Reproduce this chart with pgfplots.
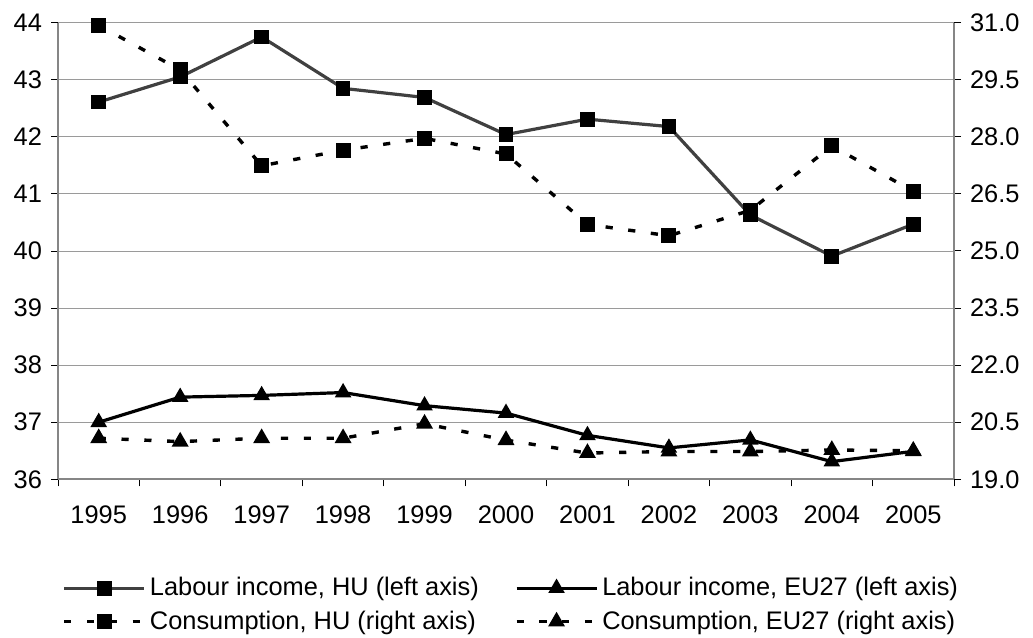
\documentclass[border=0pt]{standalone}
\usepackage{fontspec}
\setmainfont{Liberation Sans}
\usepackage{pgfplots}
\pgfplotsset{compat=1.18}

\definecolor{gridgray}{HTML}{9A9A9A}
\definecolor{axisgray}{HTML}{868686}
\definecolor{hugray}{HTML}{404040}

\pgfplotsset{
  base/.style={
    scale only axis,
    width=448pt, height=228.3pt,
    at={(29pt,78.85pt)}, anchor=south west,
    xmin=-0.5, xmax=10.5,
    tick align=outside,
    major tick length=3.5pt,
    minor tick length=3.5pt,
    tick style={black, line width=0.5pt},
    axis line style={axisgray, line width=1pt},
    tick label style={font=\fontsize{12.7}{15}\selectfont},
    /pgf/number format/assume math mode=true,
  },
  labhu/.style={hugray, line width=1.6pt, mark=square*, mark size=2.9pt, mark options={black, solid}},
  labeu/.style={black, line width=1.6pt, mark=triangle*, mark size=3.2pt, mark options={black, solid}},
  conhu/.style={black, line width=1.7pt, dash pattern=on 3.6pt off 7.8pt, mark=square*, mark size=2.9pt, mark options={black, solid}},
  coneu/.style={black, line width=1.7pt, dash pattern=on 3.6pt off 7.8pt, mark=triangle*, mark size=3.2pt, mark options={black, solid}},
}

\begin{document}
\begin{tikzpicture}
\useasboundingbox (0,0) rectangle (516.5pt,318.5pt);

% Left axis: labour income shares
\begin{axis}[
  base,
  axis x line*=bottom,
  axis y line*=left,
  ymin=36, ymax=44,
  ytick={36,37,...,44},
  ymajorgrids,
  major grid style={gridgray, line width=0.5pt},
  xtick={0,...,10},
  xticklabels={1995,1996,1997,1998,1999,2000,2001,2002,2003,2004,2005},
  major x tick style={draw=none},
  minor xtick={-0.5,0.5,...,10.5},
  xticklabel style={yshift=-6pt},
  yticklabel style={xshift=-1pt},
]
\addplot[labhu] coordinates {
  (0,42.61) (1,43.05) (2,43.75) (3,42.85) (4,42.69) (5,42.04)
  (6,42.31) (7,42.18) (8,40.63) (9,39.91) (10,40.47)};
\addplot[labeu] coordinates {
  (0,37.00) (1,37.44) (2,37.47) (3,37.52) (4,37.29) (5,37.16)
  (6,36.77) (7,36.55) (8,36.69) (9,36.31) (10,36.49)};
\end{axis}

% Right axis: consumption shares
\begin{axis}[
  base,
  axis x line=none,
  axis y line*=right,
  ymin=19, ymax=31,
  ytick={19,20.5,...,31},
  yticklabel style={/pgf/number format/.cd, fixed, fixed zerofill, precision=1, /tikz/.cd, xshift=1pt},
  legend columns=2,
  legend style={
    at={(0.507,-0.275)}, anchor=center,
    draw=none, fill=none,
    font=\fontsize{12.7}{15}\selectfont,
    row sep=2pt,
    inner xsep=1pt,
    /tikz/every even column/.append style={column sep=16pt},
  },
  legend cell align=left,
  legend image code/.code={
    \draw[mark repeat=2,mark phase=2]
      plot coordinates {(0pt,0pt) (20pt,0pt) (40pt,0pt)};
  },
]
\addlegendimage{labhu}
\addlegendentry{Labour income, HU (left axis)}
\addlegendimage{labeu}
\addlegendentry{Labour income, EU27 (left axis)}
\addplot[conhu] coordinates {
  (0,30.93) (1,29.76) (2,27.24) (3,27.65) (4,27.96) (5,27.55)
  (6,25.70) (7,25.40) (8,26.07) (9,27.76) (10,26.57)};
\addlegendentry{Consumption, HU (right axis)}
\addplot[coneu] coordinates {
  (0,20.08) (1,19.99) (2,20.08) (3,20.08) (4,20.46) (5,20.03)
  (6,19.69) (7,19.73) (8,19.73) (9,19.77) (10,19.75)};
\addlegendentry{Consumption, EU27 (right axis)}
\end{axis}
\end{tikzpicture}
\end{document}
